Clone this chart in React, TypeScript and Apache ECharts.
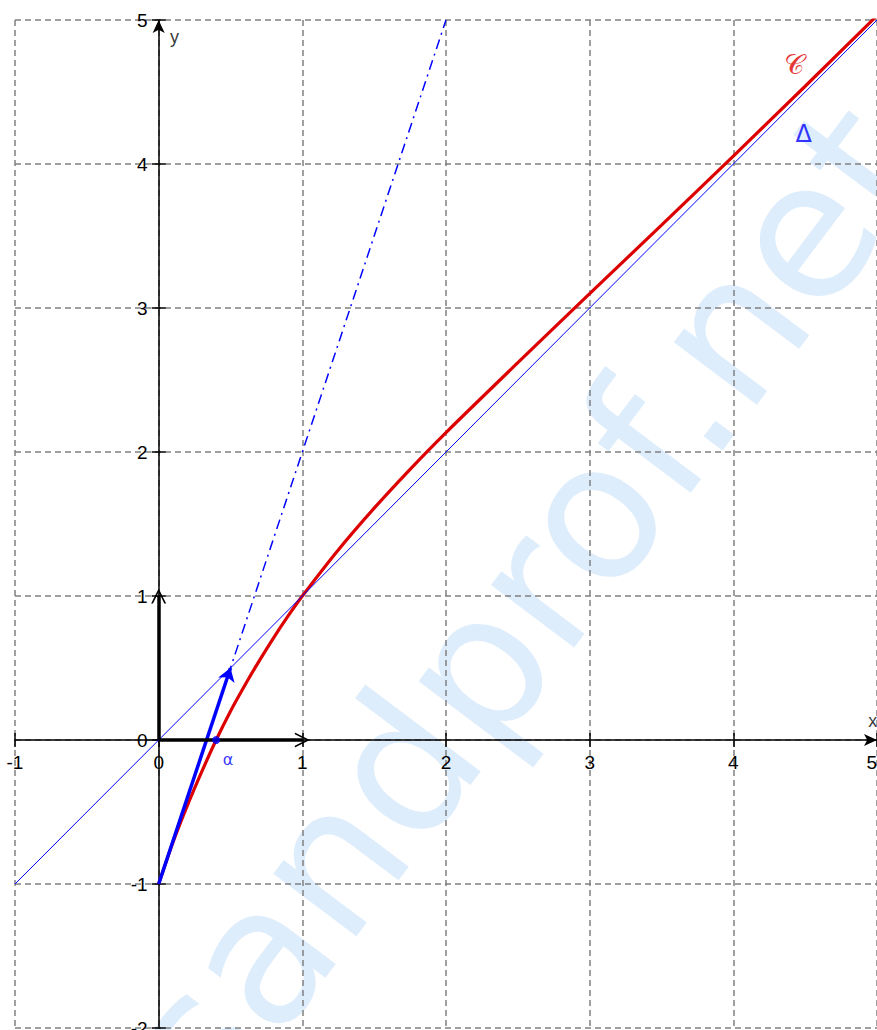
import React, { useEffect, useRef } from "react";
import * as echarts from "echarts";

// Curve C points
const curveC: [number, number][] = [
  [0, -1], [0.1, -0.71], [0.2, -0.455], [0.3, -0.22], [0.4, 0], [0.5, 0.2],
  [0.6, 0.38], [0.7, 0.55], [0.8, 0.71], [0.9, 0.86], [1, 1], [1.25, 1.32],
  [1.5, 1.61], [1.75, 1.88], [2, 2.135], [2.5, 2.62], [3, 3.1], [3.5, 3.575],
  [4, 4.055], [4.5, 4.54], [5, 5.03],
];
const deltaLine: [number, number][] = [[-1, -1], [5, 5]];
const tangentLine: [number, number][] = [[0, -1], [2, 5]];
const vectorU: [number, number][] = [[0, -1], [0.5, 0.5]];
const vectorI: [number, number][] = [[0, 0], [1, 0]];
const vectorJ: [number, number][] = [[0, 0], [0, 1]];
const alphaPoint: [number, number] = [0.4, 0];

const xMin = -1, xMax = 5, yMin = -2, yMax = 5;

const labelC: [number, number] = [4.42, 4.69];
const labelDelta: [number, number] = [4.49, 4.21];
const labelX: [number, number] = [4.97, 0.13];
const labelY: [number, number] = [0.11, 4.88];

const watermarkText = "sandprof.net";

const chevron = "path://M0,10 L5,0 L10,10 L8.8,10 L5,2.4 L1.2,10 Z";

const GRID = { left: 15, right: 0, top: 20, bottom: 2 };
const W = 877, H = 1030;

export default function App() {
  const ref = useRef<HTMLDivElement>(null);
  useEffect(() => {
    if (!ref.current) return;
    const chart = echarts.init(ref.current, undefined, { renderer: "svg" });
    const tickFont = { color: "#000", fontSize: 19, fontFamily: "Liberation Sans" };
    // place the axes through the origin (offsets from the grid edges)
    const plotW = W - GRID.left - GRID.right;
    const plotH = H - GRID.top - GRID.bottom;
    const yAxisOffset = -((0 - xMin) / (xMax - xMin)) * plotW;
    const xAxisOffset = -((0 - yMin) / (yMax - yMin)) * plotH;
    const tickStyle = { color: "#000", width: 1.5 };
    chart.setOption({
      animation: false,
      grid: { ...GRID, containLabel: false, outerBoundsMode: "none" },
      graphic: [
        {
          type: "text",
          x: 240,
          y: 1140,
          rotation: (53 * Math.PI) / 180,
          z: -10,
          silent: true,
          style: {
            text: watermarkText,
            fontSize: 190,
            fontFamily: "DejaVu Sans",
            fill: "#deedfc",
            textAlign: "left",
            textVerticalAlign: "bottom",
          },
        },
      ],
      xAxis: [
        {
          type: "value",
          min: xMin,
          max: xMax,
          interval: 1,
          position: "bottom",
          offset: xAxisOffset,
          axisLine: {
            show: true,
            onZero: false,
            symbol: ["none", "arrow"],
            symbolSize: [9, 13],
            lineStyle: { color: "#000", width: 1.5 },
          },
          axisTick: { show: true, length: 7, lineStyle: tickStyle },
          axisLabel: { ...tickFont, margin: 13, alignMaxLabel: "right" },
          splitLine: { show: true, lineStyle: { color: "#808080", width: 1.5, type: [6, 4] } },
        },
        {
          type: "value",
          min: xMin,
          max: xMax,
          interval: 1,
          position: "bottom",
          offset: xAxisOffset,
          axisLine: { show: false, onZero: false },
          axisTick: { show: true, inside: true, length: 7, lineStyle: tickStyle },
          axisLabel: { show: false },
          splitLine: { show: false },
        },
      ],
      yAxis: [
        {
          type: "value",
          min: yMin,
          max: yMax,
          interval: 1,
          position: "left",
          offset: yAxisOffset,
          axisLine: {
            show: true,
            onZero: false,
            symbol: ["none", "arrow"],
            symbolSize: [9, 13],
            lineStyle: { color: "#000", width: 1.5 },
          },
          axisTick: { show: true, length: 7, lineStyle: tickStyle },
          axisLabel: { ...tickFont, margin: 11 },
          splitLine: { show: true, lineStyle: { color: "#808080", width: 1.5, type: [6, 4] } },
        },
        {
          type: "value",
          min: yMin,
          max: yMax,
          interval: 1,
          position: "left",
          offset: yAxisOffset,
          axisLine: { show: false, onZero: false },
          axisTick: { show: true, inside: true, length: 7, lineStyle: tickStyle },
          axisLabel: { show: false },
          splitLine: { show: false },
        },
      ],
      series: [
        {
          type: "line",
          data: tangentLine,
          showSymbol: false,
          lineStyle: { color: "#0000ff", width: 1.5, type: [10, 5, 2, 5] },
          z: 3,
        },
        {
          type: "line",
          data: curveC,
          smooth: 0.3,
          showSymbol: false,
          lineStyle: { color: "#dd0000", width: 3.2 },
          z: 4,
        },
        {
          type: "line",
          data: deltaLine,
          showSymbol: false,
          lineStyle: { color: "#0000ff", width: 1 },
          z: 4,
        },
        {
          type: "lines",
          coordinateSystem: "cartesian2d",
          data: [{ coords: vectorU }],
          symbol: ["none", "arrow"],
          symbolSize: [0, 13],
          lineStyle: { color: "#0000ff", width: 3.5, opacity: 1 },
          z: 5,
        },
        {
          type: "lines",
          coordinateSystem: "cartesian2d",
          data: [{ coords: vectorI }, { coords: vectorJ }],
          symbol: ["none", chevron],
          symbolSize: [0, 15],
          lineStyle: { color: "#000", width: 3.5, opacity: 1 },
          z: 5,
        },
        {
          type: "scatter",
          data: [alphaPoint],
          symbolSize: 8,
          itemStyle: { color: "#0000ff" },
          label: {
            show: true,
            formatter: "α",
            position: "bottom",
            offset: [12, 2],
            color: "#0000ff",
            fontSize: 16,
            fontFamily: "DejaVu Sans",
          },
          z: 6,
        },
        {
          type: "scatter",
          symbolSize: 1,
          itemStyle: { color: "transparent" },
          z: 6,
          label: { show: true, position: "inside" },
          data: [
            { value: labelC, label: { formatter: "𝒞", color: "#e00000", fontSize: 28, fontFamily: "DejaVu Serif" } },
            { value: labelDelta, label: { formatter: "Δ", color: "#0000ff", fontSize: 24, fontFamily: "DejaVu Sans" } },
            { value: labelX, label: { formatter: "x", color: "#000", fontSize: 18, fontFamily: "Liberation Sans" } },
            { value: labelY, label: { formatter: "y", color: "#000", fontSize: 18, fontFamily: "Liberation Sans" } },
          ],
        },
      ],
    });
    return () => chart.dispose();
  }, []);
  return (
    <div
      ref={ref}
      style={{ position: "fixed", left: 0, top: 0, width: W, height: H, background: "#fff" }}
    />
  );
}
